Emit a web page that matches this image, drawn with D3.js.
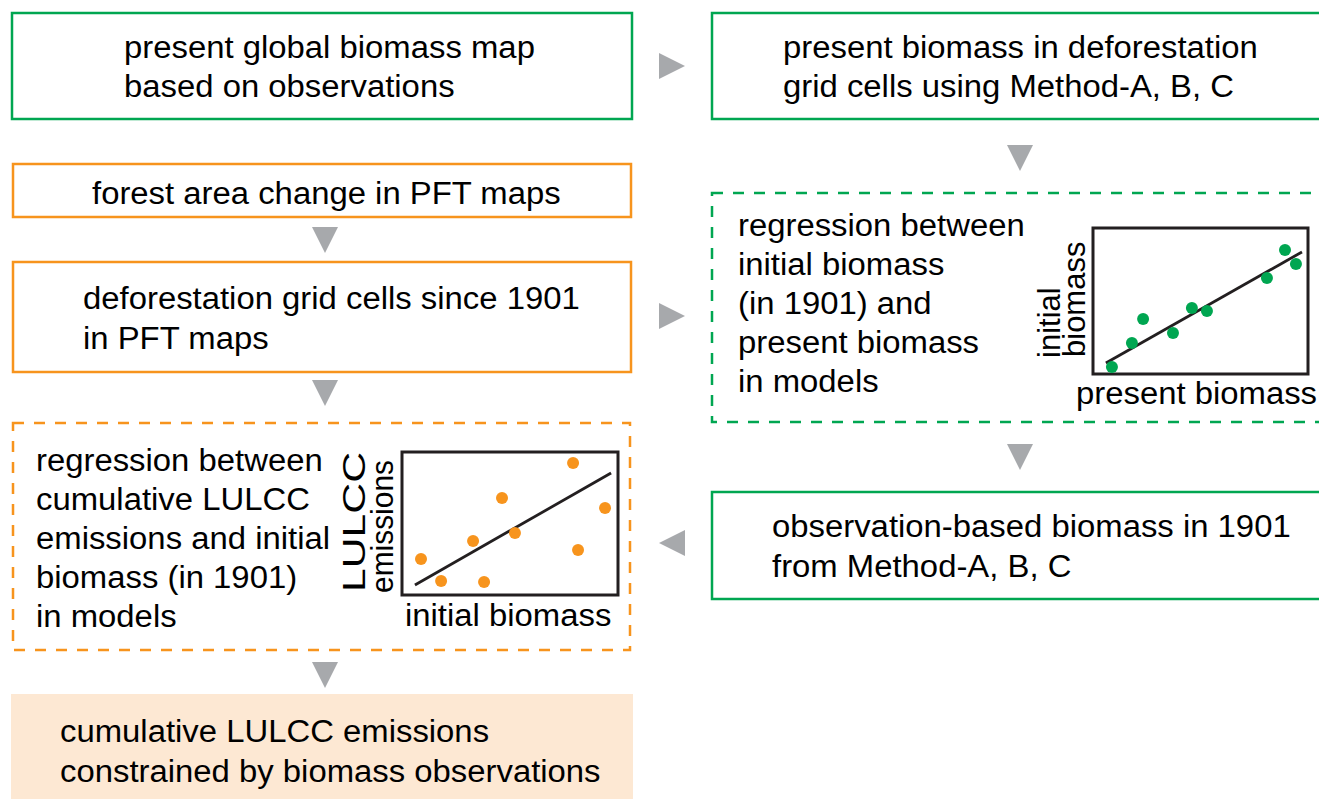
<!DOCTYPE html>
<html>
<head>
<meta charset="utf-8">
<script src="https://cdn.jsdelivr.net/npm/d3@7"></script>
<style>
  html, body { margin: 0; padding: 0; background: #fff; }
  svg { display: block; font-family: "Liberation Sans", Arial, Helvetica, sans-serif; }
</style>
</head>
<body>
<svg id="chart" width="1319" height="799"></svg>
<script>
// colours
const GREEN = "#00a651", ORANGE = "#f7941d", ARROW = "#a7a9ac", INK = "#231f20", PEACH = "#fde8d3";

// text of each step
const txtObsMap     = ["present global biomass map", "based on observations"];
const txtPresentBio = ["present biomass in deforestation", "grid cells using Method-A, B, C"];
const txtForest     = ["forest area change in PFT maps"];
const txtDefor      = ["deforestation grid cells since 1901", "in PFT maps"];
const txtRegGreen   = ["regression between", "initial biomass", "(in 1901) and", "present biomass", "in models"];
const txtRegOrange  = ["regression between", "cumulative LULCC", "emissions and initial", "biomass (in 1901)", "in models"];
const txtObs1901    = ["observation-based biomass in 1901", "from Method-A, B, C"];
const txtResult     = ["cumulative LULCC emissions", "constrained by biomass observations"];

// inset scatter: present biomass vs initial biomass (arbitrary 0-10 units)
const greenX = [0.88, 1.81, 2.33, 3.72, 4.60, 5.30, 8.09, 8.93, 9.44];
const greenY = [0.48, 2.12, 3.77, 2.81, 4.52, 4.32, 6.58, 8.49, 7.53];
const greenFit = [[0.60, 0.75], [9.72, 8.36]];

// inset scatter: initial biomass vs LULCC emissions
const orangeX = [0.88, 1.81, 3.29, 3.80, 4.63, 5.23, 7.92, 8.15, 9.40];
const orangeY = [2.52, 0.98, 3.78, 0.91, 6.78, 4.34, 9.23, 3.15, 6.08];
const orangeFit = [[0.60, 0.70], [9.68, 8.53]];

const svg = d3.select("#chart");
const FS = 31, SX = 1.06;

function box(x0, y0, x1, y1, color, dashed) {
  svg.append("rect")
    .attr("x", x0).attr("y", y0)
    .attr("width", x1 - x0).attr("height", y1 - y0)
    .attr("fill", "none")
    .attr("stroke", color).attr("stroke-width", 2.5)
    .attr("stroke-dasharray", dashed ? "11,10" : null);
}

function lines(arr, x, y0, step) {
  arr.forEach((s, i) => {
    svg.append("text")
      .attr("transform", `translate(${x},${y0 + i * step}) scale(${SX},1)`)
      .attr("fill", "#000")
      .style("font-size", `${FS}px`)
      .text(s);
  });
}

function arrow(cx, cy, dir) {
  const h = 13;
  const pts = {
    right: [[cx - h, cy - h], [cx + h, cy], [cx - h, cy + h]],
    left:  [[cx + h, cy - h], [cx - h, cy], [cx + h, cy + h]],
    down:  [[cx - h, cy - h], [cx + h, cy - h], [cx, cy + h]]
  }[dir];
  svg.append("polygon").attr("points", pts.map(p => p.join(",")).join(" ")).attr("fill", ARROW);
}

// peach result box
svg.append("rect").attr("x", 11).attr("y", 694).attr("width", 622).attr("height", 110).attr("fill", PEACH);

box(12, 13, 632, 119, GREEN, false);
box(712, 13, 1335, 119, GREEN, false);
box(13, 164, 631, 217, ORANGE, false);
box(13, 262, 631, 372, ORANGE, false);
box(712, 193, 1335, 422, GREEN, true);
box(13, 423, 630, 650, ORANGE, true);
box(712, 492, 1335, 599, GREEN, false);

lines(txtObsMap, 124, 58, 39);
lines(txtPresentBio, 783, 58, 39);
lines(txtForest, 92, 204, 39);
lines(txtDefor, 83, 309, 40);
lines(txtRegGreen, 738, 236, 39);
lines(txtRegOrange, 36, 471, 39);
lines(txtObs1901, 772, 537, 40);
lines(txtResult, 60, 742, 40);

arrow(672, 66, "right");
arrow(1020, 158, "down");
arrow(325, 240, "down");
arrow(672, 316, "right");
arrow(325, 393, "down");
arrow(1020, 457, "down");
arrow(672, 543, "left");
arrow(325, 675, "down");

function inset(cfg) {
  const x = d3.scaleLinear().domain([0, 10]).range([cfg.x0, cfg.x1]);
  const y = d3.scaleLinear().domain([0, 10]).range([cfg.y1, cfg.y0]);
  const g = svg.append("g");
  g.append("rect")
    .attr("x", cfg.x0).attr("y", cfg.y0)
    .attr("width", cfg.x1 - cfg.x0).attr("height", cfg.y1 - cfg.y0)
    .attr("fill", "none").attr("stroke", INK).attr("stroke-width", 3);
  g.append("path")
    .attr("d", d3.line().x(d => x(d[0])).y(d => y(d[1]))(cfg.fit))
    .attr("stroke", INK).attr("stroke-width", 2.8).attr("fill", "none");
  g.selectAll("circle.pt").data(cfg.xs.map((v, i) => [v, cfg.ys[i]]))
    .enter().append("circle").attr("class", "pt")
    .attr("cx", d => x(d[0])).attr("cy", d => y(d[1]))
    .attr("r", 6).attr("fill", cfg.color);
  g.append("text")
    .attr("transform", `translate(${cfg.xlab[0]},${cfg.xlab[1]}) scale(${SX},1)`)
    .style("font-size", `${FS}px`).text(cfg.xlabel);
  cfg.ylab.forEach(l => {
    const t = g.append("text")
      .attr("transform", `translate(${l.x},${l.y}) rotate(-90)`)
      .style("font-size", `${FS}px`).text(l.text);
    if (l.len) t.attr("textLength", l.len).attr("lengthAdjust", "spacingAndGlyphs");
  });
}

inset({
  x0: 1093, x1: 1308, y0: 228, y1: 374, color: GREEN,
  xs: greenX, ys: greenY, fit: greenFit,
  xlabel: "present biomass", xlab: [1076, 404],
  ylab: [{ text: "initial", x: 1060, y: 358 }, { text: "biomass", x: 1085, y: 357 }]
});

inset({
  x0: 402, x1: 618, y0: 452, y1: 595, color: ORANGE,
  xs: orangeX, ys: orangeY, fit: orangeFit,
  xlabel: "initial biomass", xlab: [405, 626],
  ylab: [{ text: "LULCC", x: 365, y: 592, len: 140 }, { text: "emissions", x: 393, y: 593, len: 133 }]
});
</script>
</body>
</html>
